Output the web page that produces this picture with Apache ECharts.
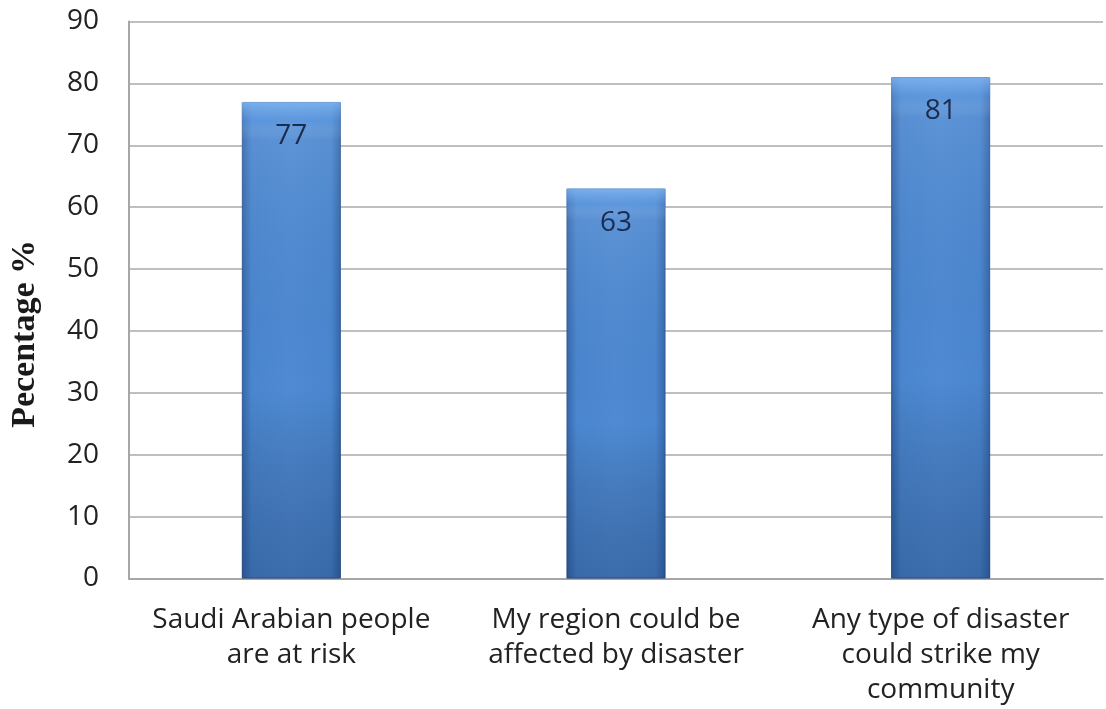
<!DOCTYPE html>
<html>
<head>
<meta charset="utf-8">
<style>
  html, body { margin: 0; padding: 0; background: #ffffff; }
  #chart { width: 1106px; height: 709px; }
</style>
<script src="https://cdn.jsdelivr.net/npm/echarts@6/dist/echarts.min.js"></script>
</head>
<body>
<div id="chart"></div>
<script>
// Survey statements and share of respondents agreeing (%)
const categories = [
  'Saudi Arabian people\nare at risk',
  'My region could be\naffected by disaster',
  'Any type of disaster\ncould strike my\ncommunity'
];
const percentages = [77, 63, 81];
const yTicks = { min: 0, max: 90, interval: 10 };
const axisTitle = 'Pecentage %';

const chart = echarts.init(document.getElementById('chart'), null, { renderer: 'canvas' });

const fontBody = '"Open Sans", "Noto Sans", sans-serif';

chart.setOption({
  animation: false,
  backgroundColor: '#ffffff',
  grid: { left: 129, right: 3, top: 21.5, bottom: 130.5, containLabel: false },
  xAxis: {
    type: 'category',
    data: categories,
    axisLine: { show: true, lineStyle: { color: '#a6a6a6', width: 2 } },
    axisTick: { show: false },
    axisLabel: {
      color: '#222222',
      fontFamily: fontBody,
      fontSize: 28,
      lineHeight: 35,
      margin: 24,
      interval: 0
    }
  },
  yAxis: {
    type: 'value',
    min: yTicks.min,
    max: yTicks.max,
    interval: yTicks.interval,
    axisLine: { show: true, lineStyle: { color: '#a6a6a6', width: 2 } },
    axisTick: { show: false },
    splitLine: { show: true, lineStyle: { color: '#bfbfbf', width: 2 } },
    axisLabel: {
      color: '#222222',
      fontFamily: fontBody,
      fontSize: 28,
      margin: 30
    }
  },
  graphic: [{
    type: 'text',
    left: 8,
    top: 240,
    rotation: Math.PI / 2,
    style: {
      text: axisTitle,
      fontFamily: '"Liberation Serif", "DejaVu Serif", serif',
      fontWeight: 'bold',
      fontSize: 34,
      fill: '#1a1a1a'
    }
  }],
  series: [
    {
      // main bar body: darker sides, lighter middle
      type: 'bar',
      data: percentages,
      barWidth: 99,
      itemStyle: {
        borderColor: '#2e5b98',
        borderWidth: 1,
        color: {
          type: 'linear', x: 0, y: 0, x2: 1, y2: 0,
          colorStops: [
            { offset: 0, color: '#3567aa' },
            { offset: 0.1, color: '#4a86cf' },
            { offset: 0.5, color: '#4f8ad3' },
            { offset: 0.9, color: '#4a86cf' },
            { offset: 1, color: '#3567aa' }
          ]
        }
      },
      z: 2
    },
    {
      // shading overlay: light top bevel fading to a deeper base
      type: 'bar',
      data: percentages,
      barWidth: 99,
      barGap: '-100%',
      itemStyle: {
        color: {
          type: 'linear', x: 0, y: 0, x2: 0, y2: 1,
          colorStops: [
            { offset: 0, color: 'rgba(140,190,245,0.75)' },
            { offset: 0.04, color: 'rgba(120,175,240,0.35)' },
            { offset: 0.08, color: 'rgba(255,255,255,0.08)' },
            { offset: 0.6, color: 'rgba(0,0,0,0.0)' },
            { offset: 1, color: 'rgba(10,30,70,0.28)' }
          ]
        }
      },
      label: {
        show: true,
        position: 'insideTop',
        distance: 20,
        color: '#1b2d4f',
        fontFamily: fontBody,
        fontSize: 28
      },
      z: 3
    }
  ]
});
</script>
</body>
</html>
